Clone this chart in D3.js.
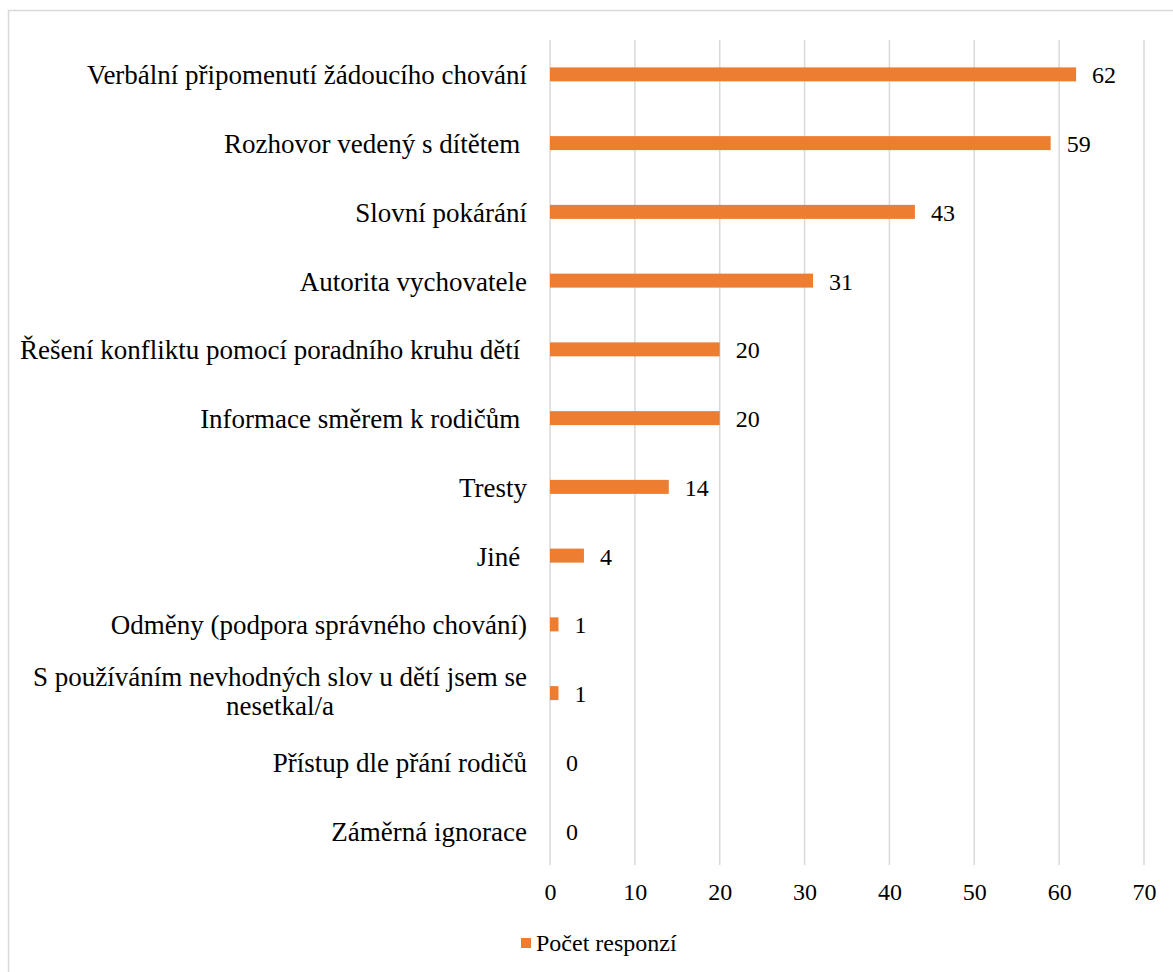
<!DOCTYPE html>
<html><head><meta charset="utf-8">
<script src="https://cdn.jsdelivr.net/npm/d3@7"></script>
<style>body{margin:0;background:#fff;}svg{display:block;} svg text{font-family:"Liberation Serif","Times New Roman",Times,serif;}</style>
</head><body>
<svg id="c" width="1173" height="972"></svg>
<script>
const categories = [
  "Verbální připomenutí žádoucího chování",
  "Rozhovor vedený s dítětem ",
  "Slovní pokárání",
  "Autorita vychovatele",
  "Řešení konfliktu pomocí poradního kruhu dětí ",
  "Informace směrem k rodičům ",
  "Tresty",
  "Jiné ",
  "Odměny (podpora správného chování)",
  "S používáním nevhodných slov u dětí jsem se nesetkal/a",
  "Přístup dle přání rodičů",
  "Záměrná ignorace"
];
const values = [62, 59, 43, 31, 20, 20, 14, 4, 1, 1, 0, 0];
const ticks = [0, 10, 20, 30, 40, 50, 60, 70];
const seriesName = "Počet responzí";

const svg = d3.select("#c");
const color = "#ED7D31";
const catFs = 27, numFs = 24;

svg.append("rect").attr("x", 8.5).attr("y", 10.5).attr("width", 1200).attr("height", 1000)
  .attr("fill", "#fff").attr("stroke", "#d9d9d9").attr("stroke-width", 1.5);

const x = d3.scaleLinear().domain([0, 70]).range([550, 1144]);
const y = d3.scaleBand().domain(categories).range([40, 865]);

const g = svg.append("g");
g.selectAll("line.grid").data(ticks).join("line")
  .attr("x1", d => x(d)).attr("x2", d => x(d))
  .attr("y1", 40).attr("y2", 865)
  .attr("stroke", "#d9d9d9").attr("stroke-width", 1.5);

const xAxis = d3.axisBottom(x).tickValues(ticks).tickSize(0).tickPadding(0);
const ax = svg.append("g").attr("transform", "translate(0,892)").call(xAxis);
ax.select(".domain").remove();
ax.selectAll("text").attr("font-family", null).attr("font-size", null).style("font-size", numFs + "px").attr("fill", "#000").attr("dy", "0.35em");

const bh = 14;
g.selectAll("rect.bar").data(values).join("rect")
  .attr("x", x(0)).attr("y", (d, i) => y(categories[i]) + y.bandwidth() / 2 - bh / 2)
  .attr("width", d => x(d) - x(0)).attr("height", bh).attr("fill", color);

g.selectAll("text.val").data(values).join("text")
  .attr("x", d => x(d) + 16).attr("y", (d, i) => y(categories[i]) + y.bandwidth() / 2)
  .attr("dy", "0.37em").style("font-size", numFs + "px").attr("fill", "#000")
  .text(d => d);

categories.forEach((c, i) => {
  const cy = y(c) + y.bandwidth() / 2;
  const t = svg.append("text").style("font-size", catFs + "px").attr("fill", "#000");
  if (c.startsWith("S používáním")) {
    const lines = ["S používáním nevhodných slov u dětí jsem se", "nesetkal/a"];
    t.attr("text-anchor", "middle");
    lines.forEach((l, k) => t.append("tspan").attr("x", 280).attr("y", cy + (k - 0.5) * 29 - 3).attr("dy", "0.37em").text(l));
  } else {
    t.attr("text-anchor", "end").attr("x", 527).attr("y", cy).attr("dy", "0.37em").text(c.replace(/ $/, "\u00a0"));
  }
});

svg.append("rect").attr("x", 521).attr("y", 938).attr("width", 10).attr("height", 10).attr("fill", color);
svg.append("text").attr("x", 536).attr("y", 943).attr("dy", "0.35em")
  .style("font-size", "24px").attr("fill", "#000").text(seriesName);
</script>
</body></html>
